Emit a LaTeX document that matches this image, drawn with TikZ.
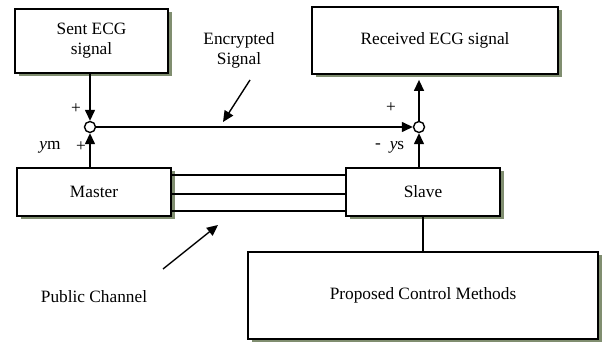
\documentclass[tikz,border=0pt]{standalone}
\usepackage{fontspec}
\setmainfont{Liberation Serif}
\usetikzlibrary{arrows.meta,shadows}
\definecolor{shadowc}{RGB}{128,142,112}
\tikzset{
  box/.style={draw, line width=1.8pt, fill=white, inner sep=0pt, align=center,
    drop shadow={shadow xshift=3.5pt, shadow yshift=-3.5pt, fill=shadowc, opacity=1}},
  conn/.style={line width=1.4pt},
  arr/.style={conn, -{Triangle[length=11pt,width=10pt]}},
  sumc/.style={circle, draw, line width=1.4pt, fill=white, minimum size=11pt, inner sep=0pt},
  lbl/.style={inner sep=0pt, align=center}
}
\begin{document}
\begin{tikzpicture}[x=1pt,y=-1pt,font=\fontsize{17.3}{20}\selectfont]
\useasboundingbox (0,0) rectangle (602,344);
\node[box, minimum width=153pt, minimum height=64pt] (sent) at (91.5,41) {Sent ECG\\signal};
\node[box, minimum width=246pt, minimum height=67pt] (recv) at (435,40.5) {Received ECG signal};
\node[box, minimum width=154pt, minimum height=48pt] (master) at (94,192) {Master};
\node[box, minimum width=154pt, minimum height=48pt] (slave) at (423,192) {Slave};
\node[box, minimum width=350pt, minimum height=87pt] (prop) at (423,295.5) {Proposed Control Methods};
\node[sumc] (c1) at (90,127) {};
\node[sumc] (c2) at (419,127) {};
% arrows into sums
\draw[arr] (sent.south -| c1) -- (c1.north);
\draw[arr] (master.north -| c1) -- (c1.south);
\draw[arr] (c1.east) -- (c2.west);
\draw[arr] (slave.north -| c2) -- (c2.south);
\draw[arr, shorten >=5pt] (c2.north) -- (recv.south -| c2);
% public channel
\foreach \s in {17,-2,-19}{
  \draw[conn] ([yshift=\s pt]master.east) -- ([yshift=\s pt]slave.west);
}
\draw[conn] (slave.south) -- (slave.south |- prop.north);
% labels
\node[lbl] (enc) at (239,50) {Encrypted\\Signal};
\coordinate (ea) at (250,80);
\coordinate (eb) at (223,122);
\draw[arr] (ea) -- (eb);
\node[lbl] (pub) at (94,297) {Public Channel};
\coordinate (pa) at (163,269);
\coordinate (pb) at (218,225);
\draw[arr] (pa) -- (pb);
\node[lbl] (p1) at (76,109) {+};
\node[lbl] (ym) at (50,147) {\textit{y}m};
\node[lbl] (p2) at (81,147) {+};
\node[lbl] (p3) at (391,108) {+};
\node[lbl] (m1) at (378,146) {-};
\node[lbl] (ys) at (397,147) {\textit{y}s};
\end{tikzpicture}
\end{document}
